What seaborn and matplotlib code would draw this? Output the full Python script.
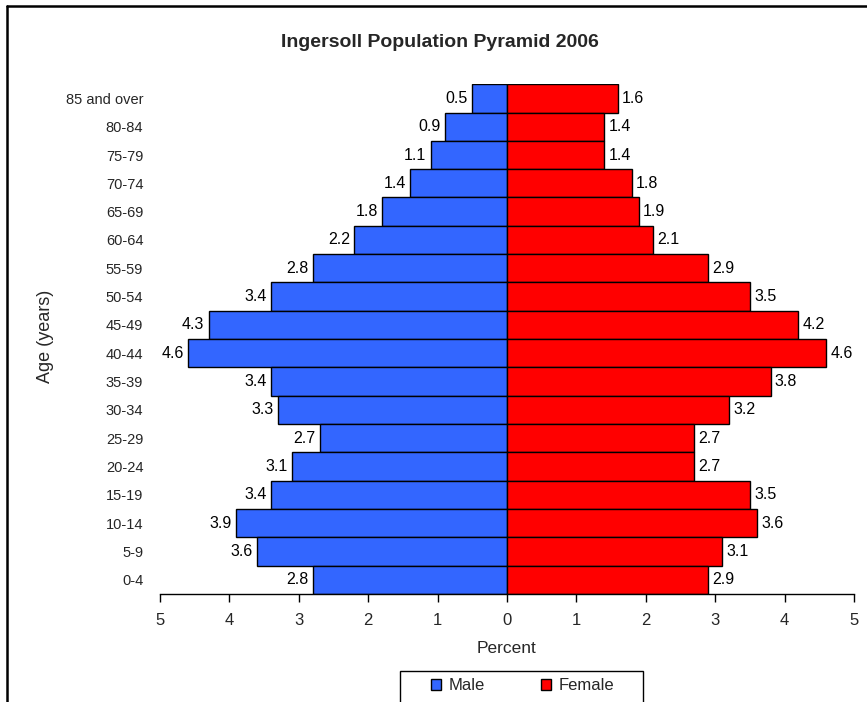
import matplotlib
matplotlib.use("Agg")
import matplotlib.pyplot as plt
from matplotlib.lines import Line2D
from matplotlib.patches import Patch, Rectangle
import seaborn as sns
import pandas as pd

age_groups = ["85 and over", "80-84", "75-79", "70-74", "65-69", "60-64", "55-59",
              "50-54", "45-49", "40-44", "35-39", "30-34", "25-29", "20-24",
              "15-19", "10-14", "5-9", "0-4"]
male = [0.5, 0.9, 1.1, 1.4, 1.8, 2.2, 2.8, 3.4, 4.3, 4.6, 3.4, 3.3, 2.7, 3.1, 3.4, 3.9, 3.6, 2.8]
female = [1.6, 1.4, 1.4, 1.8, 1.9, 2.1, 2.9, 3.5, 4.2, 4.6, 3.8, 3.2, 2.7, 2.7, 3.5, 3.6, 3.1, 2.9]
x_ticks = [-5, -4, -3, -2, -1, 0, 1, 2, 3, 4, 5]

MALE_COLOR = "#3366FF"
FEMALE_COLOR = "#FF0000"

sns.set_theme(style="white")
plt.rcParams["font.family"] = ["Liberation Sans", "DejaVu Sans"]

df = pd.DataFrame({"age": age_groups, "male": [-v for v in male], "female": female})

fig = plt.figure(figsize=(8.67, 7.02), dpi=100)
ax = fig.add_axes([0.1845, 0.154, 0.8005, 0.726])

sns.barplot(data=df, x="male", y="age", order=age_groups, color=MALE_COLOR,
            saturation=1, width=1.0, edgecolor="black", linewidth=1, orient="h", ax=ax)
sns.barplot(data=df, x="female", y="age", order=age_groups, color=FEMALE_COLOR,
            saturation=1, width=1.0, edgecolor="black", linewidth=1, orient="h", ax=ax)

# value labels at bar ends
for i, (m, f) in enumerate(zip(male, female)):
    ax.text(-m - 0.06, i, f"{m:.1f}", ha="right", va="center", fontsize=11.5, color="black")
    ax.text(f + 0.06, i, f"{f:.1f}", ha="left", va="center", fontsize=11.5, color="black")

ax.set_xlim(-5, 5)
ax.set_ylim(len(age_groups) - 0.5, -0.5)
ax.set_xticks(x_ticks)
ax.set_xticklabels([str(abs(t)) for t in x_ticks], fontsize=12)
ax.tick_params(axis="x", direction="out", length=6, width=1, color="black", pad=8, bottom=True)
ax.tick_params(axis="y", length=0, labelsize=10.5, pad=12)

for side in ["top", "right", "left"]:
    ax.spines[side].set_visible(False)
ax.spines["bottom"].set_color("black")
ax.spines["bottom"].set_linewidth(1)

ax.set_xlabel("Percent", fontsize=12.5, labelpad=9)
ax.set_ylabel("")
fig.text(0.053, 0.521, "Age (years)", rotation=90, ha="center", va="center", fontsize=13)
fig.text(0.5075, 0.939, "Ingersoll Population Pyramid 2006", ha="center", va="center",
         fontsize=14, fontweight="bold")

handles = [Patch(facecolor=MALE_COLOR, edgecolor="black", label="Male"),
           Patch(facecolor=FEMALE_COLOR, edgecolor="black", label="Female")]
fig.legend(handles=handles, loc="center", bbox_to_anchor=(0.603, 0.0228), ncol=2,
           fontsize=12, frameon=False, handlelength=0.6, handleheight=0.6,
           columnspacing=3.4, handletextpad=0.45, borderpad=0.2)
# legend box
fig.add_artist(Rectangle((0.4614, -0.01), 0.2803, 0.0542, transform=fig.transFigure,
                         facecolor="none", edgecolor="black", lw=1))

# outer frame on left and top
fig.add_artist(Line2D([0.0075, 0.0075], [0, 0.9915], transform=fig.transFigure, color="black", lw=1.8))
fig.add_artist(Line2D([0.0075, 1.0], [0.9915, 0.9915], transform=fig.transFigure, color="black", lw=1.8))

fig.savefig("out.png", dpi=100)
